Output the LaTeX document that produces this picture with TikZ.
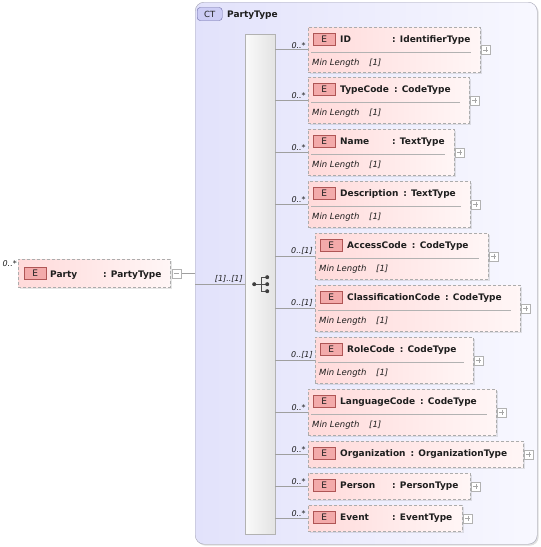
\documentclass[tikz,border=0pt]{standalone}
\usepackage{fontspec}
\setmainfont{DejaVu Sans}
\usetikzlibrary{shadows}

\definecolor{ctleft}{RGB}{226,226,251}
\definecolor{ctright}{RGB}{248,248,255}
\definecolor{ctline}{RGB}{165,165,180}
\definecolor{ctbfill}{RGB}{205,205,245}
\definecolor{ctbline}{RGB}{105,105,165}
\definecolor{elleft}{RGB}{255,218,218}
\definecolor{elright}{RGB}{255,246,246}
\definecolor{efill}{RGB}{243,170,170}
\definecolor{eline}{RGB}{175,85,85}
\definecolor{txt}{RGB}{30,30,30}

\newcommand\elname[1]{\setbox0=\hbox{#1}\ifdim\wd0<47pt\makebox[47pt][l]{#1}\else\box0\fi}

\begin{document}
\begin{tikzpicture}[x=1pt, y=-1pt,
   ctbox/.style={draw=ctline, rounded corners=9pt, left color=ctleft, right color=ctright, inner sep=0,
     drop shadow={shadow xshift=1.5pt, shadow yshift=-1.5pt, opacity=.25}},
   ctbadge/.style={draw=ctbline, fill=ctbfill, rounded corners=3pt, minimum width=25pt, minimum height=13pt,
     inner sep=0, text=txt, font=\fontsize{8.5}{9}\selectfont},
   seqbar/.style={draw=gray!60, left color=gray!4, right color=gray!22, inner sep=0},
   elbox/.style={draw=gray!65, dash pattern=on 3pt off 2pt, left color=elleft, right color=elright, inner sep=0,
     drop shadow={shadow xshift=1.5pt, shadow yshift=-1.5pt, opacity=.2}},
   ebadge/.style={draw=eline, fill=efill, minimum width=22pt, minimum height=12pt, inner sep=0,
     text=txt, font=\fontsize{9}{9}\selectfont},
   elname/.style={inner sep=0, text=txt, font=\fontsize{9}{11}\selectfont\bfseries},
   facet/.style={inner sep=0, text=txt, font=\fontsize{8.5}{9}\selectfont\itshape},
   mult/.style={inner sep=1pt, text=txt, font=\fontsize{8}{9}\selectfont\itshape},
   conn/.style={draw=gray!75, line width=.6pt},
   divider/.style={draw=gray!60, line width=.6pt},
   plusbox/.style={draw=gray!60, fill=white, minimum size=9pt, inner sep=0,
     path picture={\draw[gray!70] ([xshift=2pt]path picture bounding box.west) -- ([xshift=-2pt]path picture bounding box.east)
       ([yshift=-2pt]path picture bounding box.north) -- ([yshift=2pt]path picture bounding box.south);}},
   minusbox/.style={draw=gray!60, fill=white, minimum size=9pt, inner sep=0,
     path picture={\draw[gray!70] ([xshift=2pt]path picture bounding box.west) -- ([xshift=-2pt]path picture bounding box.east);}}]

   \useasboundingbox (0,0) rectangle (541,547);

   % complex type and its sequence
   \node[ctbox, anchor=north west, minimum width=342pt, minimum height=542pt] (ct) at (195,2) {};
   \node[ctbadge, anchor=west] (ctb) at (197,14) {CT};
   \node[elname, anchor=base west] (ctn) at (227,17.5) {PartyType};
   \node[seqbar, anchor=north west, minimum width=30pt, minimum height=500pt] (seq) at (245,34) {};
   \begin{scope}[shift={(seq.center)}]
      \draw[black!70, line width=.8pt] (-6,0) -- (7,0) (1,-7) -- (1,7) (1,-7) -- (7,-7) (1,7) -- (7,7);
      \fill[black!75] (-6,0) circle (2pt) (7,-7) circle (2pt) (7,0) circle (2pt) (7,7) circle (2pt);
   \end{scope}

   % root element
   \node[elbox, anchor=north west, minimum width=152pt, minimum height=28pt] (party) at (18,259) {};
   \node[ebadge, anchor=west] (pe) at ([xshift=6pt]party.west) {E};
   \node[elname, anchor=base west] (pn) at (50,277) {\elname{Party}\hspace{6pt}: PartyType};
   \node[minusbox] (pm) at ([xshift=6.5pt]party.east) {};
   \node[mult, anchor=south east] (pmult) at ([yshift=5pt]party.west) {0..*};
   \draw[conn] (pm.east) -- (pm.east -| ct.west);
   \draw[conn] (seq.west -| ct.west) -- (seq.west) node[mult, pos=1, anchor=south east, xshift=-1pt] {[1]..[1]};

   % children
   \foreach \nm/\typ/\lx/\tp/\rx/\hgt/\mult [count=\i] in {
      ID/IdentifierType/308/27/480/45/0..*,
      TypeCode/CodeType/308/77/469/46/0..*,
      Name/TextType/308/129/454/46/0..*,
      Description/TextType/308/181/470/46/0..*,
      AccessCode/CodeType/315/233/488/46/0..[1],
      ClassificationCode/CodeType/315/285/520/46/0..[1],
      RoleCode/CodeType/315/337/473/46/0..[1],
      LanguageCode/CodeType/308/389/496/46/0..*,
      Organization/OrganizationType/308/441/523/26/0..*,
      Person/PersonType/308/473/470/26/0..*,
      Event/EventType/308/505/462/26/0..*}{
      \node[elbox, anchor=north west, minimum width=\rx pt-\lx pt, minimum height=\hgt pt] (b\i) at (\lx,\tp) {};
      \node[ebadge, anchor=west] (e\i) at ({\lx+5},{\tp+12}) {E};
      \node[elname, anchor=base west] (n\i) at ({\lx+32},{\tp+15.5}) {\elname{\nm}\hspace{5pt}: \typ};
      \ifnum\hgt>30
         \draw[divider] ({\lx+3},{\tp+25}) -- ({\rx-9},{\tp+25});
         \node[facet, anchor=base west] (f\i) at ({\lx+4},{\tp+38}) {Min Length};
         \node[facet, anchor=base west] (v\i) at ({\lx+61},{\tp+38}) {[1]};
      \fi
      \node[plusbox] (p\i) at ([xshift=5.5pt]b\i.east) {};
      \draw[conn] (b\i.west -| seq.east) -- (b\i.west) node[mult, pos=1, anchor=south east, xshift=-1pt] {\mult};
   }
\end{tikzpicture}
\end{document}
